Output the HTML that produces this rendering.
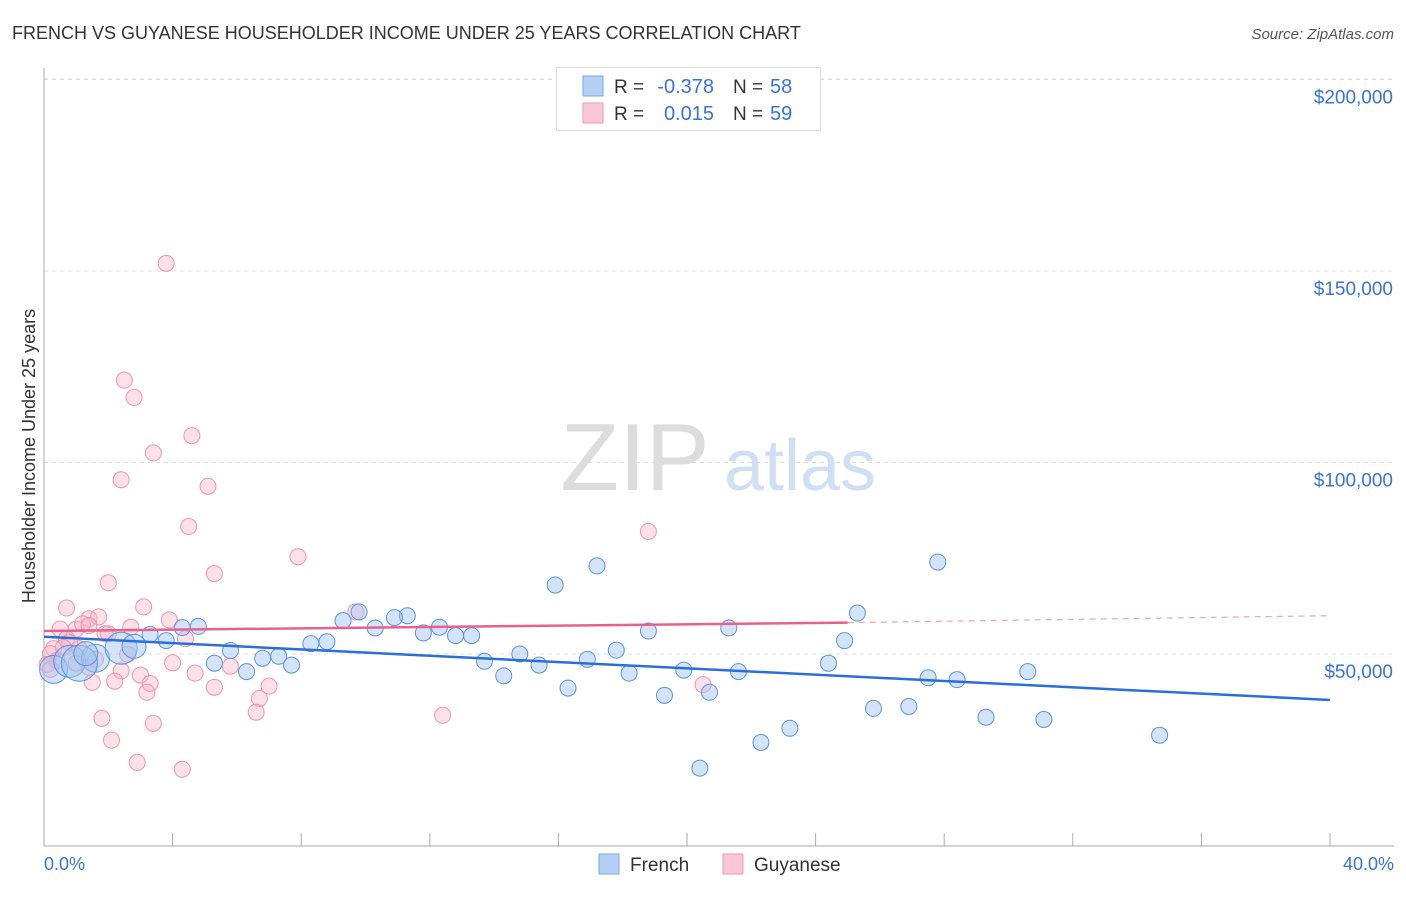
<!DOCTYPE html>
<html><head><meta charset="utf-8"><style>
body{margin:0;background:#fff;font-family:"Liberation Sans",sans-serif}
svg text{font-family:"Liberation Sans",sans-serif}
</style></head><body>
<svg id="c" width="1406" height="892">
<text x="12" y="39" font-size="18" fill="#333">FRENCH VS GUYANESE HOUSEHOLDER INCOME UNDER 25 YEARS CORRELATION CHART</text>
<text x="1394" y="39" font-size="15" fill="#555" text-anchor="end" font-style="italic">Source: ZipAtlas.com</text>
<text x="35" y="456" font-size="18" fill="#333" text-anchor="middle" transform="rotate(-90 35 456)">Householder Income Under 25 years</text>
<g><text x="635" y="490" font-size="96" fill="#ddd" text-anchor="middle" font-family="Liberation Serif">ZIP</text><text x="800" y="490" font-size="72" fill="#cfe0f5" text-anchor="middle">atlas</text></g>
<g id="grid"></g><g id="pts"></g><g id="lines"></g>
<g>
<rect x="556.5" y="67.5" width="264" height="63" fill="#fff" stroke="#ddd"/>
<rect x="583" y="76" width="20" height="20" fill="#b5d0f5" stroke="#7aa8e8"/>
<rect x="583" y="103" width="20" height="20" fill="#f9c6d5" stroke="#ef9ab5"/>
<text x="614" y="93" font-size="19" fill="#333">R =</text><text x="714" y="93" font-size="20" fill="#3a73d6" text-anchor="end">-0.378</text><text x="733" y="93" font-size="19" fill="#333">N =</text><text x="770" y="93" font-size="20" fill="#3a73d6">58</text>
<text x="614" y="120" font-size="19" fill="#333">R =</text><text x="714" y="120" font-size="20" fill="#3a73d6" text-anchor="end">0.015</text><text x="733" y="120" font-size="19" fill="#333">N =</text><text x="770" y="120" font-size="20" fill="#3a73d6">59</text>
</g>
<g>
<rect x="599" y="854" width="20" height="20" fill="#b5d0f5" stroke="#7aa8e8"/><text x="630" y="871" font-size="19" fill="#333">French</text>
<rect x="723" y="854" width="20" height="20" fill="#f9c6d5" stroke="#ef9ab5"/><text x="754" y="871" font-size="19" fill="#333">Guyanese</text>
</g>
<text x="44" y="870" font-size="18" fill="#3a73d6">0.0%</text>
<text x="1394" y="870" font-size="18" fill="#3a73d6" text-anchor="end">40.0%</text>
</svg>
<script>
const yTicks=[50000,100000,150000,200000];
const yTickLabels=["$50,000","$100,000","$150,000","$200,000"];
const frenchX=[15.9,17.2,27.8,9.8,11.3,10.9,9.3,12.3,10.3,11.8,12.8,13.3,21.3,18.8,25.3,24.9,8.3,8.8,5.8,3.8,3.3,4.8,4.3,13.7,14.8,15.4,16.9,17.8,19.9,24.4,5.3,6.8,7.3,7.7,6.3,14.3,16.3,18.2,21.6,27.5,28.4,30.6,19.3,20.7,25.8,26.9,29.3,31.1,34.7,22.3,23.2,20.4,0.3,0.8,1.6,2.4,2.8,1.1,1.3];
const frenchY=[68,73,74,61,60,59.5,58.7,57,56.8,55.5,54.8,54.8,56.8,56,60.7,53.5,52.7,53.2,50.9,53.5,55.1,57.2,56.9,48.1,50,47.1,48.6,51,45.8,47.6,47.6,48.9,49.4,47.1,45.4,44.3,41.1,45,45.4,43.8,43.3,45.4,39.2,40,35.8,36.3,33.5,32.9,28.8,26.9,30.6,20.2,46,48.1,48.9,51.5,52,47.6,50.1];
const frenchR=[8,8,8,8,8,8,8,8,8,8,8,8,8,8,8,8,8,8,8,8,8,8,8,8,8,8,8,8,8,8,8,8,8,8,8,8,8,8,8,8,8,8,8,8,8,8,8,8,8,8,8,8,14,16,14,16,12,18,12];
const guyX=[3.8,2.5,2.8,4.6,3.4,2.4,5.1,4.5,18.8,7.9,5.3,2,9.7,3.1,0.7,3.9,1.4,1.7,0.5,1,2.7,4.4,4,0.3,0.7,0.2,0.4,1.2,1.4,2,2.4,3,4.7,5.8,6.7,7,6.6,3.3,3.2,1.5,2.2,5.3,1.8,3.4,2.1,2.9,4.3,12.4,20.5,1.1,1.9,0.8,1.6,0.1,0.2,0.6,1,1.4,2.6];
const guyY=[152,121.5,117,107,102.5,95.5,93.8,83.3,82,75.4,71,68.6,61,62.3,62,58.9,59.2,59.7,56.5,56.5,57,54,47.7,51.4,54,50.1,48.3,57.9,57.4,55.3,45.6,44.5,45,46.8,38.4,41.6,34.8,42.3,40,42.6,42.9,41.3,33.2,31.9,27.5,21.7,19.9,34,42,51.4,55.3,53,48.6,47.3,46,51.7,47.6,46.5,49.9];
const guyR=[8,8,8,8,8,8,8,8,8,8,8,8,8,8,8,8,8,8,8,8,8,8,8,8,8,8,8,8,8,8,8,8,8,8,8,8,8,8,8,8,8,8,8,8,8,8,8,8,8,8,8,8,8,8,8,8,8,8,8];
const frenchTrend=[[0,54.5],[40,38]];
const guyTrendSolid=[[0,56],[25,58.2]];
const guyTrendDash=[[25,58.2],[40,60]];
const xTicks=[0,4,8,12,16,20,24,28,32,36,40];
const X=p=>44+p*32.15, Y=v=>845.5-v*3.83;
const NS="http://www.w3.org/2000/svg";
function mk(t,a,par){const e=document.createElementNS(NS,t);for(const k in a)e.setAttribute(k,a[k]);document.getElementById(par).appendChild(e);return e;}
yTicks.forEach((v,i)=>{const y=Y(v/1000);
 const l=mk('line',{x1:44,x2:1394,y1:y,y2:y,stroke:'#ddd','stroke-dasharray':'4,4'},'grid');
 
 
 const t=mk('text',{x:1393,y:y+24,'font-size':19,fill:'#3a73d6','text-anchor':'end'},'grid');t.textContent=yTickLabels[i];
 
 });
const topLine=mk('line',{x1:44,x2:1394,y1:79,y2:79,stroke:'#ddd','stroke-dasharray':'4,4'},'grid');


const ax=mk('line',{x1:44,x2:44,y1:68,y2:846,stroke:'#aaa'},'grid');


const bx=mk('line',{x1:44,x2:1394,y1:846,y2:846,stroke:'#aaa'},'grid');


xTicks.forEach(p=>{const t=mk('line',{x1:X(p),x2:X(p),y1:833,y2:846,stroke:'#aaa'},'grid');
 
 });
guyX.forEach((x,i)=>{const c=mk('circle',{cx:X(x),cy:Y(guyY[i]),r:guyR[i],fill:'rgba(248,180,200,0.4)',stroke:'#ef93b0','stroke-width':1},'pts');
 
 });
frenchX.forEach((x,i)=>{const c=mk('circle',{cx:X(x),cy:Y(frenchY[i]),r:frenchR[i],fill:'rgba(160,196,240,0.45)',stroke:'#5b93e0','stroke-width':1},'pts');
 
 });
const fl=mk('line',{x1:X(frenchTrend[0][0]),y1:Y(frenchTrend[0][1]),x2:X(frenchTrend[1][0]),y2:Y(frenchTrend[1][1]),stroke:'#2a6fd8','stroke-width':2.5},'lines');


const gl=mk('line',{x1:X(guyTrendSolid[0][0]),y1:Y(guyTrendSolid[0][1]),x2:X(guyTrendSolid[1][0]),y2:Y(guyTrendSolid[1][1]),stroke:'#e8618e','stroke-width':2.5},'lines');


const gd=mk('line',{x1:X(guyTrendDash[0][0]),y1:Y(guyTrendDash[0][1]),x2:X(guyTrendDash[1][0]),y2:Y(guyTrendDash[1][1]),stroke:'#f0a0ba','stroke-width':1.2,'stroke-dasharray':'6,5'},'lines');


</script>
</body></html>
